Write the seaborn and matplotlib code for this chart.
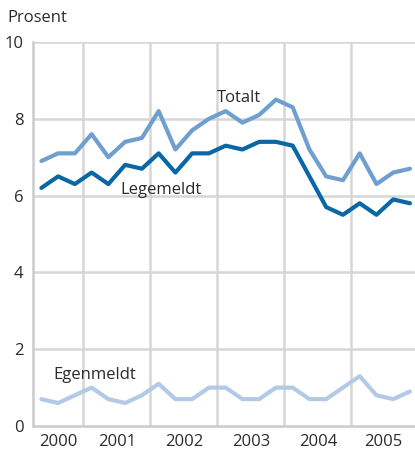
import numpy as np
import pandas as pd
import seaborn as sns
import matplotlib.pyplot as plt

# quarterly data, 2000 Q2 - 2005 Q4
years = [2000] * 3 + [y for y in range(2001, 2006) for _ in range(4)]
quarters = [2, 3, 4] + [1, 2, 3, 4] * 5
totalt = [6.9, 7.1, 7.1, 7.6, 7.0, 7.4, 7.5, 8.2, 7.2, 7.7, 8.0, 8.2,
          7.9, 8.1, 8.5, 8.3, 7.2, 6.5, 6.4, 7.1, 6.3, 6.6, 6.7]
legemeldt = [6.2, 6.5, 6.3, 6.6, 6.3, 6.8, 6.7, 7.1, 6.6, 7.1, 7.1, 7.3,
             7.2, 7.4, 7.4, 7.3, 6.5, 5.7, 5.5, 5.8, 5.5, 5.9, 5.8]
egenmeldt = [0.7, 0.6, 0.8, 1.0, 0.7, 0.6, 0.8, 1.1, 0.7, 0.7, 1.0, 1.0,
             0.7, 0.7, 1.0, 1.0, 0.7, 0.7, 1.0, 1.3, 0.8, 0.7, 0.9]
year_labels = ["2000", "2001", "2002", "2003", "2004", "2005"]

t = np.array(years) + (np.array(quarters) - 0.5) / 4
df = pd.DataFrame({"t": np.tile(t, 3),
                   "verdi": totalt + legemeldt + egenmeldt,
                   "serie": ["Totalt"] * 23 + ["Legemeldt"] * 23 + ["Egenmeldt"] * 23})

sns.set_style("white")
plt.rcParams['font.family'] = ['Open Sans', 'DejaVu Sans']

colors = {"Totalt": "#6f9fcf", "Legemeldt": "#0a67a6", "Egenmeldt": "#b3cae6"}
fs = 12
tc = "#2b2b2b"

fig = plt.figure(figsize=(4.15, 4.5), dpi=100)
ax = fig.add_axes([0.0795, 0.0533, 0.9205, 0.8534])

xmin, xmax = 2000.25, 2005.95
for x in range(2001, 2006):
    ax.axvline(x, color="#d6d6d6", lw=1.8, zorder=0)
for y in [2, 4, 6, 8, 10]:
    ax.axhline(y, color="#d6d6d6", lw=1.8, zorder=0)

sns.lineplot(data=df, x="t", y="verdi", hue="serie", palette=colors,
             linewidth=3.0, legend=False, ax=ax, zorder=3)

ax.set_xlim(xmin, xmax)
ax.set_ylim(0, 10)
ax.set_yticks([0, 2, 4, 6, 8, 10])
ax.set_yticklabels(["0", "2", "4", "6", "8", "10"], fontsize=fs, color=tc)

# year labels centred in the visible part of each year
xt = [(max(int(l), xmin) + min(int(l) + 1, xmax)) / 2 for l in year_labels]
ax.set_xticks(xt)
ax.set_xticklabels(year_labels, fontsize=fs, color=tc)
ax.tick_params(axis="x", length=0, pad=6)
ax.tick_params(axis="y", length=0, pad=7)
ax.set_xlabel("")
ax.set_ylabel("")

for side in ["top", "right"]:
    ax.spines[side].set_visible(False)
for side in ["left", "bottom"]:
    ax.spines[side].set_color("#cbcbcb")
    ax.spines[side].set_linewidth(1.8)

ax.text(2003.0, 8.55, "Totalt", fontsize=fs, color=tc, va="center")
ax.text(2001.55, 6.15, "Legemeldt", fontsize=fs, color=tc, va="center")
ax.text(2000.56, 1.33, "Egenmeldt", fontsize=fs, color=tc, va="center")

fig.text(0.018, 0.978, "Prosent", fontsize=fs, color=tc, va="top")

fig.savefig("out.png", dpi=100)
